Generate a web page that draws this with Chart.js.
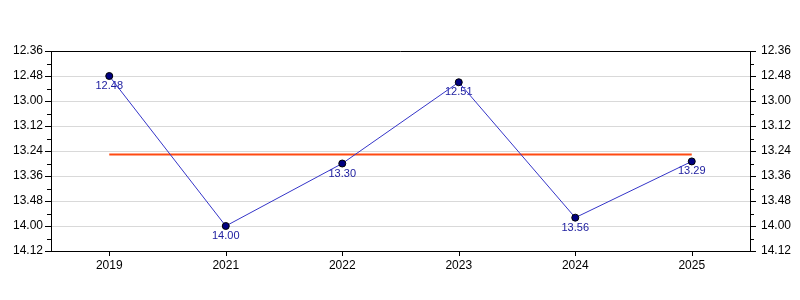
<!DOCTYPE html>
<html>
<head>
<meta charset="utf-8">
<script src="https://cdn.jsdelivr.net/npm/chart.js@4"></script>
<style>
  html, body { margin: 0; padding: 0; background: #fff; }
  #wrap { width: 800px; height: 300px; }
</style>
</head>
<body>
<div id="wrap"><canvas id="grafico"></canvas></div>
<script>
// years on the x axis
const anios = ["2019", "2021", "2022", "2023", "2024", "2025"];
// times as shown (minutes.seconds)
const tiempos = ["12.48", "14.00", "13.30", "12.51", "13.56", "13.29"];
// reference (orange) line, in seconds (~13.25.7)
const linea_media = 805.7;
// y axis range in seconds, 12.36 .. 14.12, every 12 s
const y_min = 756;
const y_max = 852;
const y_paso = 12;

const aSegundos = (t) => {
  const [m, s] = t.split(".");
  return parseInt(m, 10) * 60 + parseInt(s, 10);
};
const aTexto = (v) => {
  const m = Math.floor(v / 60);
  const s = Math.round(v - m * 60);
  return m + "." + (s < 10 ? "0" + s : s);
};

const valores = tiempos.map(aSegundos);
const media = anios.map(() => linea_media);

// ticks (major + minor) and top frame line
const plugin_marco = {
  id: "marco",
  afterDraw: (chart) => {
    const ctx = chart.ctx;
    const area = chart.chartArea;
    const y = chart.scales.y;
    const x = chart.scales.x;
    ctx.save();
    ctx.strokeStyle = "#000";
    ctx.lineWidth = 1;
    ctx.beginPath();
    ctx.moveTo(area.left, Math.round(area.top) + 0.5);
    ctx.lineTo(area.right, Math.round(area.top) + 0.5);
    for (let v = y_min; v <= y_max; v += y_paso / 2) {
      const py = Math.round(y.getPixelForValue(v)) + 0.5;
      const largo = (v - y_min) % y_paso === 0 ? 6 : 4;
      ctx.moveTo(area.left - largo, py);
      ctx.lineTo(area.left, py);
      ctx.moveTo(area.right, py);
      ctx.lineTo(area.right + largo, py);
    }
    anios.forEach((a, i) => {
      const px = Math.round(x.getPixelForValue(i)) + 0.5;
      ctx.moveTo(px, area.bottom);
      ctx.lineTo(px, area.bottom + 5);
    });
    ctx.stroke();
    ctx.restore();
  },
};

// value labels under each point (drawn before the line, which crosses them)
const plugin_etiquetas = {
  id: "etiquetas",
  beforeDatasetsDraw: (chart) => {
    const ctx = chart.ctx;
    const meta = chart.getDatasetMeta(0);
    ctx.save();
    ctx.font = "11px 'Liberation Sans', Arial, sans-serif";
    ctx.fillStyle = "#2020a0";
    ctx.textAlign = "center";
    ctx.textBaseline = "middle";
    meta.data.forEach((p, i) => {
      ctx.fillText(tiempos[i], p.x, p.y + 10);
    });
    ctx.restore();
  },
};

const fuente = { family: "'Liberation Sans', Arial, sans-serif", size: 12 };

const ejeY = (posicion, pad) => ({
  type: "linear",
  position: posicion,
  reverse: true,
  min: y_min,
  max: y_max,
  afterFit: (s) => { s.width = 50; },
  border: { display: true, color: "#000", width: 1 },
  grid: {
    display: posicion === "left",
    drawTicks: false,
    color: "#d9d9d9",
    lineWidth: 1,
  },
  ticks: {
    stepSize: y_paso,
    padding: pad,
    color: "#000",
    font: fuente,
    callback: (v) => aTexto(v),
  },
});

new Chart(document.getElementById("grafico"), {
  type: "line",
  data: {
    labels: anios,
    datasets: [
      {
        label: "Tiempo",
        data: valores,
        borderColor: "#3535c8",
        borderWidth: 1,
        pointRadius: 3.5,
        pointBackgroundColor: "#000080",
        pointBorderColor: "#000",
        pointBorderWidth: 1,
        tension: 0,
      },
      {
        label: "Media",
        data: media,
        borderColor: "#ff4a12",
        borderWidth: 2,
        pointRadius: 0,
        tension: 0,
      },
    ],
  },
  options: {
    responsive: true,
    maintainAspectRatio: false,
    animation: false,
    layout: { padding: { top: 51, left: 1, right: 0, bottom: 19 } },
    plugins: {
      legend: { display: false },
      tooltip: { enabled: false },
    },
    scales: {
      x: {
        offset: true,
        afterFit: (s) => { s.height = 30; },
        border: { display: true, color: "#000", width: 1 },
        grid: { display: false, drawTicks: false },
        ticks: { padding: 7, color: "#000", font: fuente },
      },
      y: ejeY("left", 8),
      y2: ejeY("right", 11),
    },
  },
  plugins: [plugin_marco, plugin_etiquetas],
});
</script>
</body>
</html>
